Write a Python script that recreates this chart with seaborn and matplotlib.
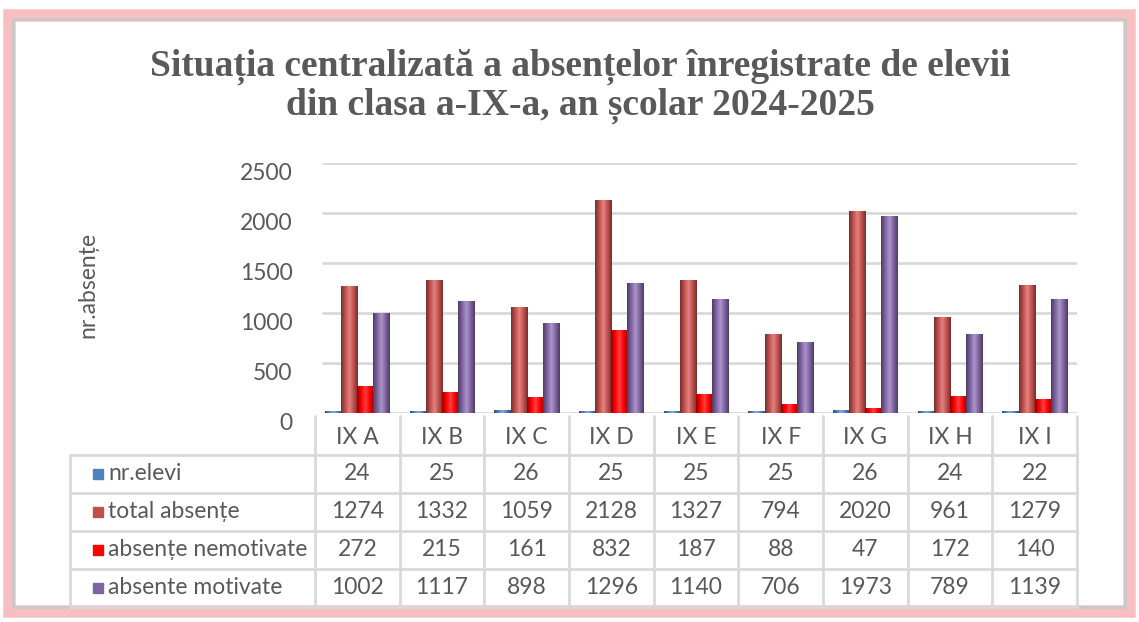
import numpy as np
import pandas as pd
import seaborn as sns
import matplotlib.pyplot as plt
from matplotlib.colors import LinearSegmentedColormap, to_rgb
from matplotlib.patches import Rectangle
from matplotlib.transforms import ScaledTranslation

# data
clase = ['IX A', 'IX B', 'IX C', 'IX D', 'IX E', 'IX F', 'IX G', 'IX H', 'IX I']
serii = ['nr.elevi', 'total absențe', 'absențe nemotivate', 'absente motivate']
nr_elevi = [24, 25, 26, 25, 25, 25, 26, 24, 22]
total_absente = [1274, 1332, 1059, 2128, 1327, 794, 2020, 961, 1279]
nemotivate = [272, 215, 161, 832, 187, 88, 47, 172, 140]
motivate = [1002, 1117, 898, 1296, 1140, 706, 1973, 789, 1139]
y_ticks = [0, 500, 1000, 1500, 2000, 2500]

culori = ['#4f81bd', '#c0504d', '#ff0000', '#8064a2']
gri_text = '#595959'
gri_linie = '#d9d9d9'
fs = 16.5

valori = [nr_elevi, total_absente, nemotivate, motivate]
df = pd.DataFrame({
    'clasa': clase * 4,
    'serie': [s for s in serii for _ in clase],
    'valoare': [v for lista in valori for v in lista],
})

sns.set_style('white')
plt.rcParams['font.family'] = ['Lato', 'DejaVu Sans']

W, H = 1139, 622
fig = plt.figure(figsize=(W / 100, H / 100), dpi=100)

# overlay in pixel coords for frame and table
bg = fig.add_axes([0, 0, 1, 1], zorder=0)
bg.set_xlim(0, W)
bg.set_ylim(H, 0)
bg.axis('off')
bg.add_patch(Rectangle((9, 15), 1120, 596, fill=False, ec='#f6b0b0', lw=9, alpha=0.8))
bg.add_patch(Rectangle((13, 19), 1112, 588, fill=False, ec='#c8c8c8', lw=2))

# main chart
x0, x1 = 315, 1077
y_zero, y_top = 413, 163
ax = fig.add_axes([x0 / W, 1 - y_zero / H, (x1 - x0) / W, (y_zero - y_top) / H], zorder=2)
ax.patch.set_alpha(0)
sns.barplot(data=df, x='clasa', y='valoare', hue='serie', hue_order=serii,
            palette=culori, width=0.76, gap=0.0, ax=ax, legend=False,
            saturation=1, edgecolor='none')
ax.set_ylim(0, 2500)
ax.set_xlim(-0.5, len(clase) - 0.5)
ax.set_yticks(y_ticks)
ax.set_yticklabels([str(t) for t in y_ticks], fontsize=fs, color=gri_text)
ax.tick_params(axis='y', length=0, pad=16)
shift = ScaledTranslation(0, -8 / 100, fig.dpi_scale_trans)
for lbl in ax.get_yticklabels():
    lbl.set_transform(lbl.get_transform() + shift)
ax.set_xticks([])
ax.set_xlabel('')
ax.set_ylabel('')
for s in ax.spines.values():
    s.set_visible(False)
for t in y_ticks:
    ax.axhline(t, color=gri_linie, lw=2, zorder=0, xmin=0.01, xmax=1.0)

# cylinder look
for patch in list(ax.patches):
    bx, by = patch.get_x(), patch.get_y()
    bw, bh = patch.get_width(), patch.get_height()
    if bh <= 0:
        continue
    r, g, b = to_rgb(patch.get_facecolor())
    dark = (r * 0.6, g * 0.6, b * 0.6)
    light = tuple(min(1, c * 0.85 + 0.25) for c in (r, g, b))
    cmap = LinearSegmentedColormap.from_list('c', [dark, (r, g, b), light, (r, g, b), dark])
    grad = np.linspace(0, 1, 64).reshape(1, -1)
    im = ax.imshow(grad, extent=[bx, bx + bw, by, by + bh], aspect='auto',
                   cmap=cmap, zorder=patch.get_zorder() + 0.1, origin='lower')
    im.set_clip_path(patch)
ax.set_ylim(0, 2500)
ax.set_xlim(-0.5, len(clase) - 0.5)

fig.text(88 / W, 1 - 285 / H, 'nr.absențe', rotation=90, ha='center', va='center',
         fontsize=fs, color=gri_text)

fig.text(580 / W, 1 - 86 / H,
         'Situația centralizată a absențelor înregistrate de elevii\ndin clasa a-IX-a, an școlar 2024-2025',
         ha='center', va='center', fontsize=27, fontweight='bold', color=gri_text,
         family=['Liberation Serif', 'DejaVu Serif'], linespacing=1.1)

# data table
col_w = (x1 - x0) / len(clase)
left = 70
rows_y = [455, 493, 531, 569, 607]
head_top = 416
lw = 2
for i in range(len(clase) + 1):
    xv = x0 + i * col_w
    bg.plot([xv, xv], [head_top, rows_y[-1]], color=gri_linie, lw=lw)
bg.plot([left, left], [rows_y[0], rows_y[-1]], color=gri_linie, lw=lw)
for yv in rows_y:
    bg.plot([left, x1], [yv, yv], color=gri_linie, lw=lw)
for i, c in enumerate(clase):
    bg.text(x0 + (i + 0.5) * col_w, 438, c, ha='center', va='center',
            fontsize=fs, color=gri_text)
for j, (nume, lista) in enumerate(zip(serii, valori)):
    yc = (rows_y[j] + rows_y[j + 1]) / 2
    bg.add_patch(Rectangle((93, yc - 5), 10, 10, color=culori[j]))
    bg.text(108, yc, nume, ha='left', va='center', fontsize=fs, color=gri_text)
    for i, v in enumerate(lista):
        bg.text(x0 + (i + 0.5) * col_w, yc, str(v), ha='center', va='center',
                fontsize=fs, color=gri_text)

fig.savefig('out.png', dpi=100)
